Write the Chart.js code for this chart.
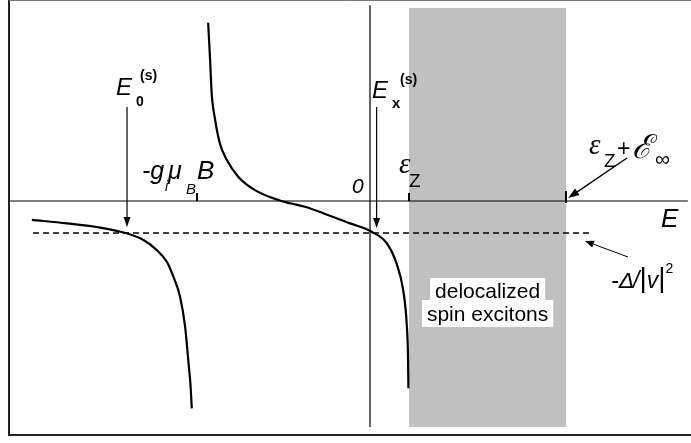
<!DOCTYPE html>
<html>
<head>
<meta charset="utf-8">
<script src="https://cdn.jsdelivr.net/npm/chart.js@4"></script>
<style>
  html, body { margin: 0; padding: 0; background: #fff; }
  #wrap { width: 691px; height: 443px; }
</style>
</head>
<body>
<div id="wrap"><canvas id="chart" width="691" height="443"></canvas></div>
<script>
// energy E (units of eps_Z) and the response function value (units of Delta/|v|^2)
const leftBranchE = [-8.67, -7.77, -6.92, -6.24, -5.81, -5.47, -5.21, -5.04, -4.87, -4.74, -4.66, -4.60, -4.57];
const leftBranchF = [-0.59, -0.70, -0.83, -1.01, -1.22, -1.53, -1.90, -2.37, -2.99, -3.93, -4.97, -5.80, -6.48];

const midBranchE = [-4.15, -4.10, -4.06, -3.97, -3.85, -3.67, -3.38, -2.95, -2.35, -2.05, -1.67, -1.20, -0.51, 0.04, 0.43, 0.68, 0.85, 0.94, 0.975, 0.985];
const midBranchF = [5.57, 4.41, 3.37, 2.53, 1.80, 1.28, 0.76, 0.34, 0.03, -0.07, -0.18, -0.38, -0.70, -0.96, -1.32, -1.95, -2.78, -3.82, -4.87, -5.85];

const dashedLevel = -1.0;          // -Delta/|v|^2
const dashedRange = [-8.64, 5.64];
const axisRange = [-9.26, 8.15];   // horizontal E axis
const zeroLineRange = [6.12, -7.06];

const gMuB = -4.44;                // -g_i mu_B B
const epsZ = 1.0;                  // eps_Z
const bandEnd = 5.03;              // eps_Z + E_inf
const bandTop = 6.03, bandBottom = -7.06;
const e0 = -6.23, ex = 0.17;       // E_0^(s), E_x^(s)
const arrowTop = 2.94;

const xMin = -9.4872, xMax = 8.2308;
const yMin = -7.5625, yMax = 6.28125;

const pts = (xs, ys) => xs.map((x, i) => ({ x: x, y: ys[i] }));

const sans = '"Liberation Sans", Arial, sans-serif';
const serif = '"Liberation Serif", "DejaVu Serif", serif';

function txt(ctx, s, x, y, font, align) {
  ctx.font = font;
  ctx.textAlign = align || 'left';
  ctx.textBaseline = 'alphabetic';
  ctx.fillText(s, x, y);
  return ctx.measureText(s).width;
}

function arrow(ctx, x1, y1, x2, y2, len, half, lw) {
  const a = Math.atan2(y2 - y1, x2 - x1);
  const bx = x2 - len * Math.cos(a), by = y2 - len * Math.sin(a);
  ctx.lineWidth = lw;
  ctx.beginPath();
  ctx.moveTo(x1, y1);
  ctx.lineTo(bx, by);
  ctx.stroke();
  ctx.beginPath();
  ctx.moveTo(x2, y2);
  ctx.lineTo(bx + half * Math.sin(a), by - half * Math.cos(a));
  ctx.lineTo(bx - half * Math.sin(a), by + half * Math.cos(a));
  ctx.closePath();
  ctx.fill();
}

const sketch = {
  id: 'sketch',
  beforeDatasetsDraw(chart) {
    const { ctx, scales: { x, y } } = chart;
    ctx.save();
    ctx.fillStyle = '#c0c0c0';
    const l = x.getPixelForValue(epsZ), r = x.getPixelForValue(bandEnd);
    const t = y.getPixelForValue(bandTop), b = y.getPixelForValue(bandBottom);
    ctx.fillRect(l, t, r - l, b - t);
    ctx.restore();
  },
  afterDatasetsDraw(chart) {
    const { ctx, scales: { x, y } } = chart;
    const y0 = y.getPixelForValue(0);
    const yd = y.getPixelForValue(dashedLevel);
    ctx.save();
    ctx.fillStyle = '#000';

    // frame
    ctx.lineWidth = 2;
    ctx.strokeStyle = '#222';
    ctx.beginPath();
    ctx.moveTo(9, 0); ctx.lineTo(9, 435); ctx.lineTo(700, 435);
    ctx.stroke();
    ctx.lineWidth = 1;
    ctx.strokeStyle = '#777';
    ctx.beginPath();
    ctx.moveTo(9, 0.5); ctx.lineTo(700, 0.5);
    ctx.stroke();
    ctx.strokeStyle = '#000';

    // ticks
    ctx.lineWidth = 2;
    [[gMuB, 8], [epsZ, 8], [bandEnd, 10]].forEach(([v, h]) => {
      const px = Math.round(x.getPixelForValue(v));
      ctx.beginPath();
      ctx.moveTo(px, y0 - h);
      ctx.lineTo(px, y0 + (h > 8 ? 2 : 0));
      ctx.stroke();
    });

    // arrows
    const at = y.getPixelForValue(arrowTop);
    arrow(ctx, x.getPixelForValue(e0), at, x.getPixelForValue(e0), yd - 6, 10, 3.5, 1.2);
    arrow(ctx, x.getPixelForValue(ex), at, x.getPixelForValue(ex), yd - 5, 10, 3.5, 1.2);
    arrow(ctx, 627, 158, x.getPixelForValue(bandEnd) + 2, y0 - 3, 11, 4, 1.5);
    arrow(ctx, 628, 257, x.getPixelForValue(dashedRange[1]) - 5, yd + 8, 9, 3.5, 1);

    // labels
    txt(ctx, 'E', 116, 95, 'italic 24px ' + sans);
    txt(ctx, '0', 136, 106, 'bold 14px ' + sans);
    txt(ctx, '(s)', 140, 80, 'bold 14px ' + sans);

    txt(ctx, 'E', 372, 98, 'italic 24px ' + sans);
    txt(ctx, 'x', 392, 108, 'bold 15px ' + sans);
    txt(ctx, '(s)', 400, 84, 'bold 14px ' + sans);

    txt(ctx, '-g', 142, 179, 'italic 25px ' + sans);
    txt(ctx, 'i', 165, 191, 'italic 14px ' + sans);
    txt(ctx, '\u03bc', 168, 179, 'italic 25px ' + sans);
    txt(ctx, 'B', 186, 194, 'italic 15px ' + sans);
    txt(ctx, 'B', 197, 179, 'italic 26px ' + sans);

    txt(ctx, '0', 352, 193, 'italic 21px ' + sans);

    txt(ctx, '\u03b5', 399, 173, 'italic 29px ' + serif);
    txt(ctx, 'Z', 409, 187, '19px ' + sans);

    txt(ctx, '\u03b5', 589, 154, 'italic 29px ' + serif);
    txt(ctx, 'Z', 604, 167, '19px ' + sans);
    txt(ctx, '+', 617, 156, '23px ' + sans);
    txt(ctx, '\u2130', 632, 158, 'italic 33px ' + serif);
    txt(ctx, '\u221e', 655, 166, '21px ' + sans);

    // -Delta/|v|^2
    let lx = 611;
    lx += txt(ctx, '-', lx, 288, 'italic 23px ' + sans);
    lx += txt(ctx, '\u0394', lx, 288, 'italic 23px ' + sans);
    lx += txt(ctx, '/', lx - 1, 288, 'italic 23px ' + sans) - 1;
    lx += txt(ctx, '|', lx, 287, '28px ' + sans);
    lx += txt(ctx, 'v', lx, 288, 'italic 23px ' + sans);
    lx += txt(ctx, '|', lx, 287, '28px ' + sans);
    txt(ctx, '2', lx, 273, '14px ' + sans);

    txt(ctx, 'E', 661, 227, 'italic 26px ' + sans);

    // caption boxes in the band
    const cx = (x.getPixelForValue(epsZ) + x.getPixelForValue(bandEnd)) / 2;
    ctx.font = '21px ' + sans;
    [['delocalized', 298, 278], ['spin excitons', 321, 300]].forEach(([s, base, top]) => {
      const w = ctx.measureText(s).width;
      ctx.fillStyle = '#fff';
      ctx.fillRect(cx - w / 2 - 5, top, w + 10, base + 6 - top);
      ctx.fillStyle = '#000';
      txt(ctx, s, cx, base, '21px ' + sans, 'center');
    });
    ctx.restore();
  }
};

const line = (data, w, extra) => Object.assign({
  data: data,
  borderColor: '#000',
  borderWidth: w,
  pointRadius: 0,
  fill: false
}, extra || {});

new Chart(document.getElementById('chart'), {
  type: 'line',
  data: {
    datasets: [
      line([{ x: axisRange[0], y: 0 }, { x: axisRange[1], y: 0 }], 1.2),
      line([{ x: 0, y: zeroLineRange[0] }, { x: 0, y: zeroLineRange[1] }], 1.2),
      line([{ x: dashedRange[0], y: dashedLevel }, { x: dashedRange[1], y: dashedLevel }], 1.6, { borderDash: [6, 4] }),
      line(pts(leftBranchE, leftBranchF), 2.2, { cubicInterpolationMode: 'monotone' }),
      line(pts(midBranchE, midBranchF), 2.2, { cubicInterpolationMode: 'monotone' })
    ]
  },
  options: {
    responsive: false,
    animation: false,
    devicePixelRatio: 1,
    layout: { padding: 0 },
    plugins: { legend: { display: false }, tooltip: { enabled: false } },
    scales: {
      x: { type: 'linear', min: xMin, max: xMax, display: false },
      y: { type: 'linear', min: yMin, max: yMax, display: false }
    }
  },
  plugins: [sketch]
});
</script>
</body>
</html>
